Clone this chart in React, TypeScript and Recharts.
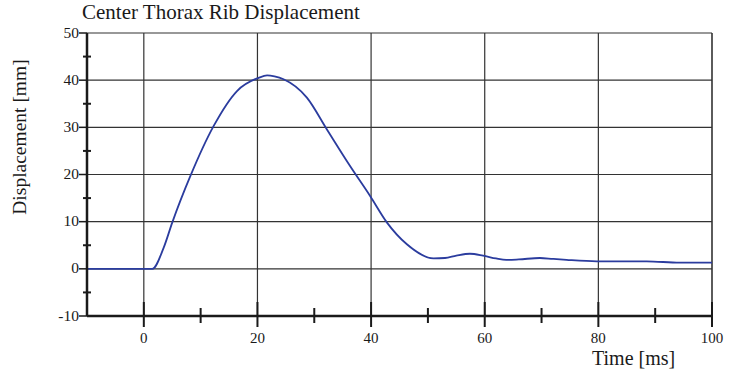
import { LineChart, Line, XAxis, YAxis, ReferenceLine } from 'recharts';

const timeMs = [
  -10, 0, 1.5, 3.5, 5, 8.2, 12.3, 16.4, 20.2, 21.7, 23, 24.6, 28.7,
  32.2, 36.3, 39.8, 42.8, 46.3, 51, 53, 55, 57.4, 59.7, 62,
  63.8, 66, 69.7, 72, 74.4, 79.7, 88.5, 94.3, 100,
];
const displacementMm = [
  0, 0, 0, 4.5, 9.8, 19.7, 30.3, 37.7, 40.5, 41, 40.8, 40.2, 36.3,
  29.6, 21.8, 15.5, 9.8, 5.2, 2.2, 2.3, 2.8, 3.2, 2.8, 2.2,
  1.9, 2.0, 2.3, 2.1, 1.9, 1.6, 1.6, 1.3, 1.3,
];

const xTicks = [-10, 0, 10, 20, 30, 40, 50, 60, 70, 80, 90, 100];
const xGrid = [0, 20, 40, 60, 80, 100];
const yTicks = [-10, -5, 0, 5, 10, 15, 20, 25, 30, 35, 40, 45, 50];
const yGrid = [0, 10, 20, 30, 40, 50];

const data = timeMs.map((t, i) => ({ t, d: displacementMm[i] }));

const FONT = '"Liberation Serif", "Times New Roman", serif';
const INK = '#1a1a1a';

// x ticks: long crossing marks at labelled values, short ones in between
function XTick(props: any) {
  const { x, y, payload } = props;
  const v = payload.value;
  if (v === -10) return null;
  const major = v % 20 === 0;
  return (
    <g>
      <line x1={x} x2={x} y1={y - (major ? 14 : 8)} y2={y + (major ? 11 : 7)} stroke={INK} strokeWidth={2} />
      {major && (
        <text x={x} y={y + 24} textAnchor="middle" dominantBaseline="middle" fontSize={15} fontFamily={FONT} fill={INK}>
          {v}
        </text>
      )}
    </g>
  );
}

function YTick(props: any) {
  const { x, y, payload } = props;
  const v = payload.value;
  const major = v % 10 === 0;
  return (
    <g>
      {major ? (
        <line x1={x - 8} x2={x} y1={y} y2={y} stroke={INK} strokeWidth={1.5} />
      ) : (
        <line x1={x - 4} x2={x + 4} y1={y} y2={y} stroke={INK} strokeWidth={2} />
      )}
      {major && (
        <text x={x - 8} y={y + 1} textAnchor="end" dominantBaseline="middle" fontSize={15.5} fontFamily={FONT} fill={INK}>
          {v}
        </text>
      )}
    </g>
  );
}

export default function App() {
  return (
    <div style={{ position: 'relative', width: 729, height: 372, background: '#fff', fontFamily: FONT }}>
      <style>{'body{margin:0;background:#fff}'}</style>
      <div style={{ position: 'absolute', left: 82, top: 2, fontSize: 21, lineHeight: 1, color: INK, whiteSpace: 'nowrap' }}>
        Center Thorax Rib Displacement
      </div>
      <div
        style={{
          position: 'absolute', left: 20, top: 137, fontSize: 19.5, lineHeight: 1, color: INK, whiteSpace: 'nowrap',
          transform: 'translate(-50%, -50%) rotate(-90deg)',
        }}
      >
        Displacement [mm]
      </div>
      <div style={{ position: 'absolute', left: 592, top: 348, fontSize: 20, lineHeight: 1, color: INK, whiteSpace: 'nowrap' }}>
        Time [ms]
      </div>
      <LineChart width={729} height={372} data={data} margin={{ top: 33, right: 17, bottom: 0, left: 0 }}>
        <XAxis
          dataKey="t"
          type="number"
          domain={[-10, 100]}
          ticks={xTicks}
          height={56}
          tickSize={0}
          tickMargin={0}
          tickLine={false}
          axisLine={{ stroke: INK, strokeWidth: 2.5 }}
          tick={<XTick />}
          interval={0}
        />
        <YAxis
          type="number"
          domain={[-10, 50]}
          ticks={yTicks}
          width={87}
          tickSize={0}
          tickMargin={0}
          tickLine={false}
          axisLine={{ stroke: INK, strokeWidth: 2.5 }}
          tick={<YTick />}
          interval={0}
        />
        {yGrid.map((v) => (
          <ReferenceLine key={'h' + v} y={v} stroke="#333" strokeWidth={1.2} />
        ))}
        {xGrid.map((v) => (
          <ReferenceLine key={'v' + v} x={v} stroke="#333" strokeWidth={v === 100 ? 1.6 : 1.2} />
        ))}
        <Line
          type="monotone"
          dataKey="d"
          stroke="#2b3c9e"
          strokeWidth={1.8}
          dot={false}
          isAnimationActive={false}
        />
      </LineChart>
    </div>
  );
}
